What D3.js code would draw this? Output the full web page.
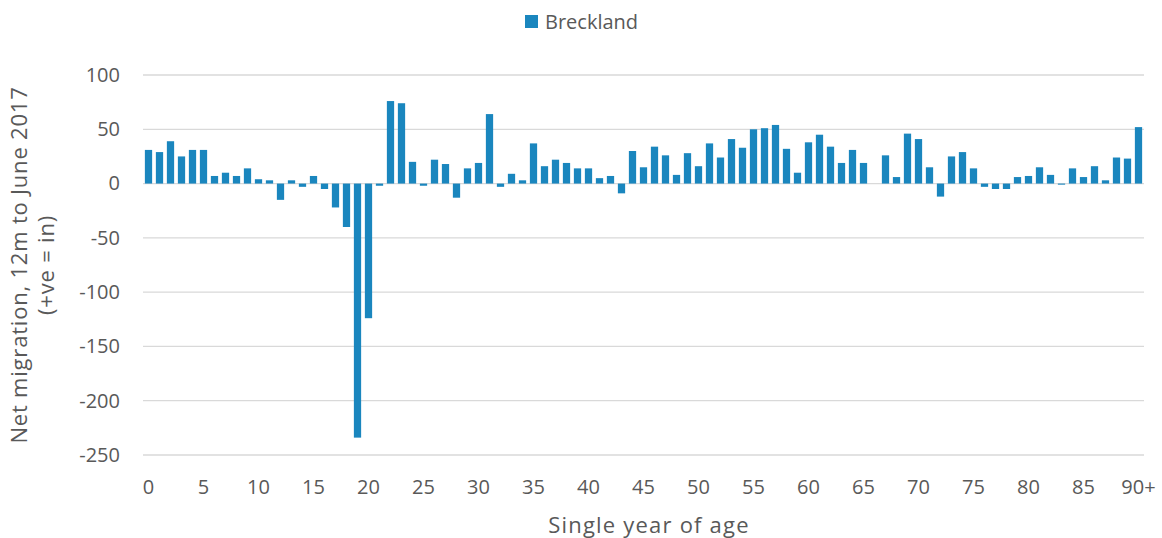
<!DOCTYPE html>
<html lang="en">
<head>
  <meta charset="UTF-8">
  <title>Breckland net migration by age</title>
  <script src="https://cdnjs.cloudflare.com/ajax/libs/d3/7.8.5/d3.min.js"></script>
  <style>
    body { margin: 0; background: #fff; }
    text { font-family: "Open Sans", sans-serif; fill: #595959; }
  </style>
</head>
<body>
  <svg></svg>
  <script>
    // ages 0..89 then "90+"
    const ages = d3.range(0, 90).map(String).concat(['90+']);
    const netMigration = [
      31, 29, 39, 25, 31, 31, 7, 10, 7, 14,
      4, 3, -15, 3, -3, 7, -5, -22, -40, -234,
      -124, -2, 76, 74, 20, -2, 22, 18, -13, 14,
      19, 64, -3, 9, 3, 37, 16, 22, 19, 14,
      14, 5, 7, -9, 30, 15, 34, 26, 8, 28,
      16, 37, 24, 41, 33, 50, 51, 54, 32, 10,
      38, 45, 34, 19, 31, 19, 0, 26, 6, 46,
      41, 15, -12, 25, 29, 14, -3, -5, -5, 6,
      7, 15, 8, -1, 14, 6, 16, 3, 24, 23,
      52
    ];
    const yTicks = [100, 50, 0, -50, -100, -150, -200, -250];
    const xLabelAges = ['0', '5', '10', '15', '20', '25', '30', '35', '40', '45',
      '50', '55', '60', '65', '70', '75', '80', '85', '90+'];

    const width = 1162, height = 538;
    const plotLeft = 143, plotRight = 1144, plotTop = 75, plotBottom = 455;
    const barColor = '#1a86be';

    const svg = d3.select('svg').attr('width', width).attr('height', height);

    const x = d3.scaleBand().domain(ages).range([plotLeft, plotRight]).paddingInner(0.34).paddingOuter(0.17);
    const y = d3.scaleLinear().domain([-250, 100]).range([plotBottom, plotTop]);

    // gridlines
    svg.append('g')
      .selectAll('line')
      .data(yTicks)
      .join('line')
      .attr('x1', plotLeft).attr('x2', plotRight)
      .attr('y1', d => y(d)).attr('y2', d => y(d))
      .style('stroke', '#d9d9d9')
      .style('stroke-width', '1.3px');

    // y axis labels, plain hyphen for the minus like the original
    const yAxis = svg.append('g')
      .attr('transform', `translate(${plotLeft - 23},0)`)
      .call(d3.axisLeft(y).tickValues(yTicks).tickSize(0).tickPadding(0).tickFormat(d => String(d)));
    yAxis.select('.domain').remove();
    yAxis.selectAll('text')
      .attr('font-size', 20)
      .style('font-family', '"Open Sans", sans-serif')
      .style('fill', '#595959');

    // bars
    svg.append('g')
      .selectAll('rect')
      .data(netMigration)
      .join('rect')
      .attr('x', (d, i) => x(ages[i]))
      .attr('width', x.bandwidth())
      .attr('y', d => y(Math.max(0, d)))
      .attr('height', d => Math.abs(y(d) - y(0)))
      .style('fill', barColor);

    // x axis labels
    svg.append('g')
      .selectAll('text')
      .data(xLabelAges)
      .join('text')
      .attr('x', d => x(d) + x.bandwidth() / 2)
      .attr('y', 494)
      .attr('text-anchor', 'middle')
      .attr('font-size', 20)
      .text(d => d);

    // x axis title
    svg.append('text')
      .attr('x', 649)
      .attr('y', 533)
      .attr('text-anchor', 'middle')
      .attr('font-size', 22)
      .attr('letter-spacing', 1.2)
      .text('Single year of age');

    // y axis title
    const yt = svg.append('text')
      .attr('transform', `translate(27,265) rotate(-90)`)
      .attr('text-anchor', 'middle')
      .attr('font-size', 22)
      .attr('letter-spacing', 0.8);
    yt.append('tspan').attr('x', 0).attr('dy', 0).text('Net migration, 12m to June 2017');
    yt.append('tspan').attr('x', 0).attr('dy', 27).text('(+ve = in)');

    // legend
    svg.append('rect')
      .attr('x', 525).attr('y', 15).attr('width', 13).attr('height', 13)
      .style('fill', barColor);
    svg.append('text')
      .attr('x', 545).attr('y', 29)
      .attr('font-size', 20)
      .text('Breckland');
  </script>
</body>
</html>
